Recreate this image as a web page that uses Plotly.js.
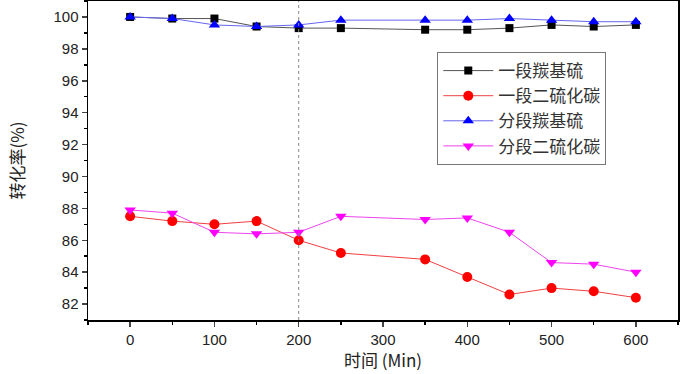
<!DOCTYPE html>
<html><head><meta charset="utf-8">
<script src="https://cdn.plot.ly/plotly-3.0.1.min.js"></script>
<style>body{margin:0;background:#fff}#c{width:689px;height:374px}</style>
</head><body><div id="c"></div>
<script>
const times = [0, 50, 100, 150, 200, 250, 350, 400, 450, 500, 550, 600];
const names = ["一段羰基硫", "一段二硫化碳", "分段羰基硫", "分段二硫化碳"];
const cos1 = [100, 99.9, 99.9, 99.4, 99.3, 99.3, 99.2, 99.2, 99.3, 99.5, 99.4, 99.5];
const cs2_1 = [87.5, 87.2, 87.0, 87.2, 86.0, 85.2, 84.8, 83.7, 82.6, 83.0, 82.8, 82.4];
const cosS = [100, 99.9, 99.5, 99.4, 99.5, 99.8, 99.8, 99.8, 99.9, 99.8, 99.7, 99.7];
const cs2S = [87.9, 87.7, 86.5, 86.4, 86.5, 87.5, 87.3, 87.4, 86.5, 84.6, 84.5, 84.0];
const xTicks = [0, 100, 200, 300, 400, 500, 600];
const yTicks = [82, 84, 86, 88, 90, 92, 94, 96, 98, 100];
const divider = 200;

const series = [cos1, cs2_1, cosS, cs2S];
const lineColors = ["#555555", "#f04040", "#6666ee", "#ee44ee"];
const markColors = ["#000000", "#ff0000", "#0000ff", "#ff00ff"];
const symbols = ["square", "circle", "triangle-up", "triangle-down"];
const traces = series.map((s, i) => ({
  x: times, y: s, name: names[i], type: "scatter", mode: "lines+markers",
  line: {color: lineColors[i], width: 1},
  marker: {color: markColors[i], symbol: symbols[i], size: i === 0 ? 8 : 10}
}));

const layout = {
  width: 689, height: 374,
  margin: {l: 88, r: 11, t: 1, b: 54},
  paper_bgcolor: "#fff", plot_bgcolor: "#fff",
  showlegend: true,
  legend: {
    x: 0.592, y: 0.84, xanchor: "left", yanchor: "top",
    bordercolor: "#777", borderwidth: 1, bgcolor: "#fff",
    font: {family: "Noto Sans CJK SC", size: 17, color: "#333"},
    tracegroupgap: 0, itemwidth: 50
  },
  xaxis: {
    range: [-50, 650], tickvals: xTicks, ticks: "outside", ticklen: 5, tickwidth: 1.5,
    showline: true, linecolor: "#000", linewidth: 1.5, mirror: true,
    showgrid: false, zeroline: false,
    minor: {tickvals: [-50, 50, 150, 250, 350, 450, 550, 650], ticks: "outside", ticklen: 3, tickcolor: "#000", showgrid: false},
    tickfont: {family: "Liberation Sans, Arial", size: 15, color: "#222"},
    title: {text: "时间 (Min)", font: {family: "Noto Sans CJK SC", size: 17, color: "#222"}, standoff: 6}
  },
  yaxis: {
    range: [81, 101], tickvals: yTicks, ticks: "outside", ticklen: 5, tickwidth: 1.5,
    showline: true, linecolor: "#000", linewidth: 1.5, mirror: true,
    showgrid: false, zeroline: false,
    minor: {tickvals: [81, 83, 85, 87, 89, 91, 93, 95, 97, 99, 101], ticks: "outside", ticklen: 3, tickcolor: "#000", showgrid: false},
    tickfont: {family: "Liberation Sans, Arial", size: 15, color: "#222"},
    title: {text: "转化率(%)", font: {family: "Noto Sans CJK SC", size: 17, color: "#222"}, standoff: 24}
  },
  shapes: [{
    type: "line", xref: "x", yref: "paper", x0: divider, x1: divider, y0: 0, y1: 1,
    line: {color: "#888", width: 1, dash: "dot"}
  }]
};
Plotly.newPlot("c", traces, layout, {displayModeBar: false, staticPlot: true});
</script></body></html>
